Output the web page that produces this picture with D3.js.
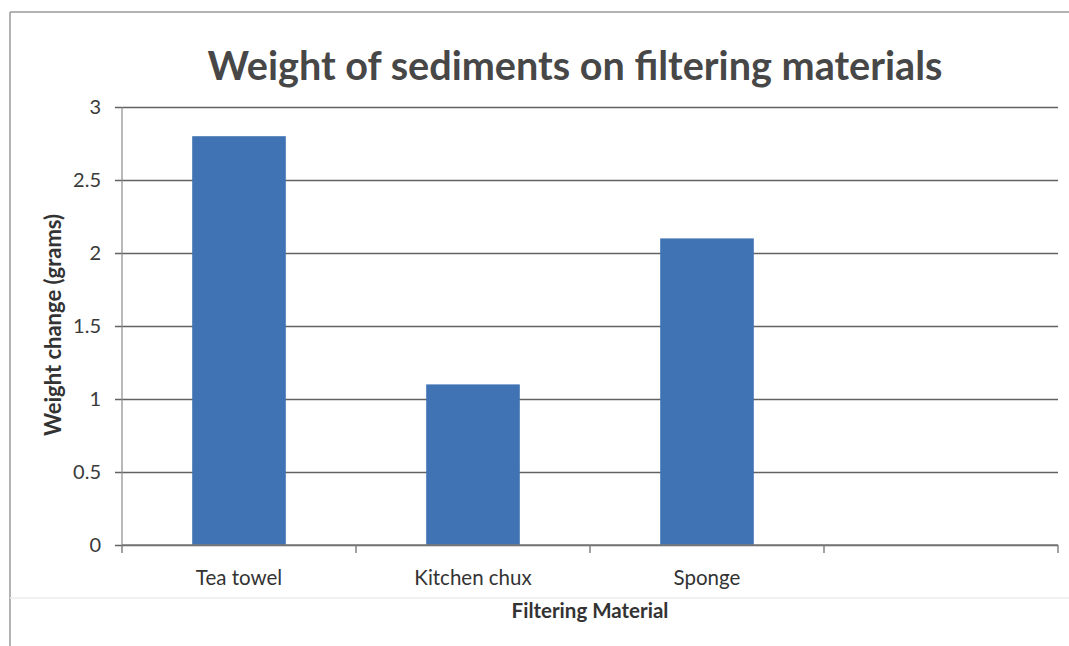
<!DOCTYPE html>
<html>
<head>
<meta charset="utf-8">
<script src="https://cdn.jsdelivr.net/npm/d3@7"></script>
<style>
  html, body { margin: 0; padding: 0; background: #fff; }
  svg { display: block; }
  text { font-family: Lato, "Open Sans", sans-serif; }
</style>
</head>
<body>
<svg id="chart" width="1069" height="646"></svg>
<script>
// ---- data ----
const categories = ["Tea towel", "Kitchen chux", "Sponge", ""];
const values = [2.8, 1.1, 2.1, null];
const yTicks = [0, 0.5, 1, 1.5, 2, 2.5, 3];
const titleText = "Weight of sediments on filtering materials";
const xTitle = "Filtering Material";
const yTitle = "Weight change (grams)";

const svg = d3.select("#chart");
const W = 1069, H = 646;
const m = { left: 122, right: 1058, top: 107, bottom: 545 };

// outer frame (scanned chart border)
svg.append("line").attr("x1", 10).attr("x2", W).attr("y1", 12).attr("y2", 12)
  .attr("stroke", "#9a9a9a").attr("stroke-width", 1.5);
svg.append("line").attr("x1", 10).attr("x2", 10).attr("y1", 12).attr("y2", H)
  .attr("stroke", "#9a9a9a").attr("stroke-width", 1.5);
svg.append("line").attr("x1", 10).attr("x2", W).attr("y1", 598).attr("y2", 598)
  .attr("stroke", "#ececec").attr("stroke-width", 1.5);

const x = d3.scaleBand().domain(categories.map((c, i) => i)).range([m.left, m.right]).padding(0);
const y = d3.scaleLinear().domain([0, 3]).range([m.bottom, m.top]);

// gridlines + y ticks
const yAxis = d3.axisLeft(y).tickValues(yTicks).tickSize(-(m.right - m.left)).tickSizeOuter(0)
  .tickFormat(d => d3.format("")(d)).tickPadding(21);
const gy = svg.append("g").attr("transform", `translate(${m.left},0)`).call(yAxis);
gy.select(".domain").remove();
gy.selectAll(".tick line").attr("x1", -7).attr("stroke", "#626262").attr("stroke-width", 1.7);
gy.selectAll(".tick text").attr("font-size", 20).attr("fill", "#3a3a3a").attr("font-family", "Lato, sans-serif");

// y axis line
svg.append("line").attr("x1", m.left).attr("x2", m.left).attr("y1", m.top).attr("y2", m.bottom)
  .attr("stroke", "#8a8a8a").attr("stroke-width", 1.2);

// bars
const barW = x.bandwidth() * 0.4;
svg.append("g").selectAll("rect")
  .data(values.map((v, i) => ({ v, i })).filter(d => d.v != null))
  .join("rect")
  .attr("x", d => x(d.i) + (x.bandwidth() - barW) / 2)
  .attr("width", barW)
  .attr("y", d => y(d.v))
  .attr("height", d => y(0) - y(d.v))
  .attr("fill", "#3f73b4");

// x axis line and ticks at band boundaries
svg.append("line").attr("x1", m.left).attr("x2", m.right).attr("y1", y(0)).attr("y2", y(0))
  .attr("stroke", "#7a7a7a").attr("stroke-width", 1.4);
const bounds = categories.map((c, i) => x(i)).concat([m.right]);
svg.append("g").selectAll("line").data(bounds).join("line")
  .attr("x1", d => d).attr("x2", d => d).attr("y1", y(0)).attr("y2", y(0) + 8)
  .attr("stroke", "#7a7a7a").attr("stroke-width", 1.4);

// category labels
svg.append("g").selectAll("text").data(categories).join("text")
  .attr("x", (d, i) => x(i) + x.bandwidth() / 2)
  .attr("y", 585)
  .attr("text-anchor", "middle")
  .attr("font-size", 20.5)
  .attr("fill", "#333")
  .text(d => d);

// axis titles
svg.append("text").attr("x", 590).attr("y", 618).attr("text-anchor", "middle")
  .attr("font-size", 20.5).attr("font-weight", "bold").attr("fill", "#333").text(xTitle);
svg.append("text").attr("transform", "translate(61,325) rotate(-90)").attr("text-anchor", "middle")
  .attr("font-size", 22).attr("font-weight", "bold").attr("fill", "#333").text(yTitle);

// title
const t = svg.append("text").attr("x", 575).attr("y", 80).attr("text-anchor", "middle")
  .attr("font-size", 34).attr("font-weight", "bold").attr("fill", "#474747").text(titleText);
const tw = t.node().getComputedTextLength();
t.attr("font-size", 34 * 735 / tw);
</script>
</body>
</html>
